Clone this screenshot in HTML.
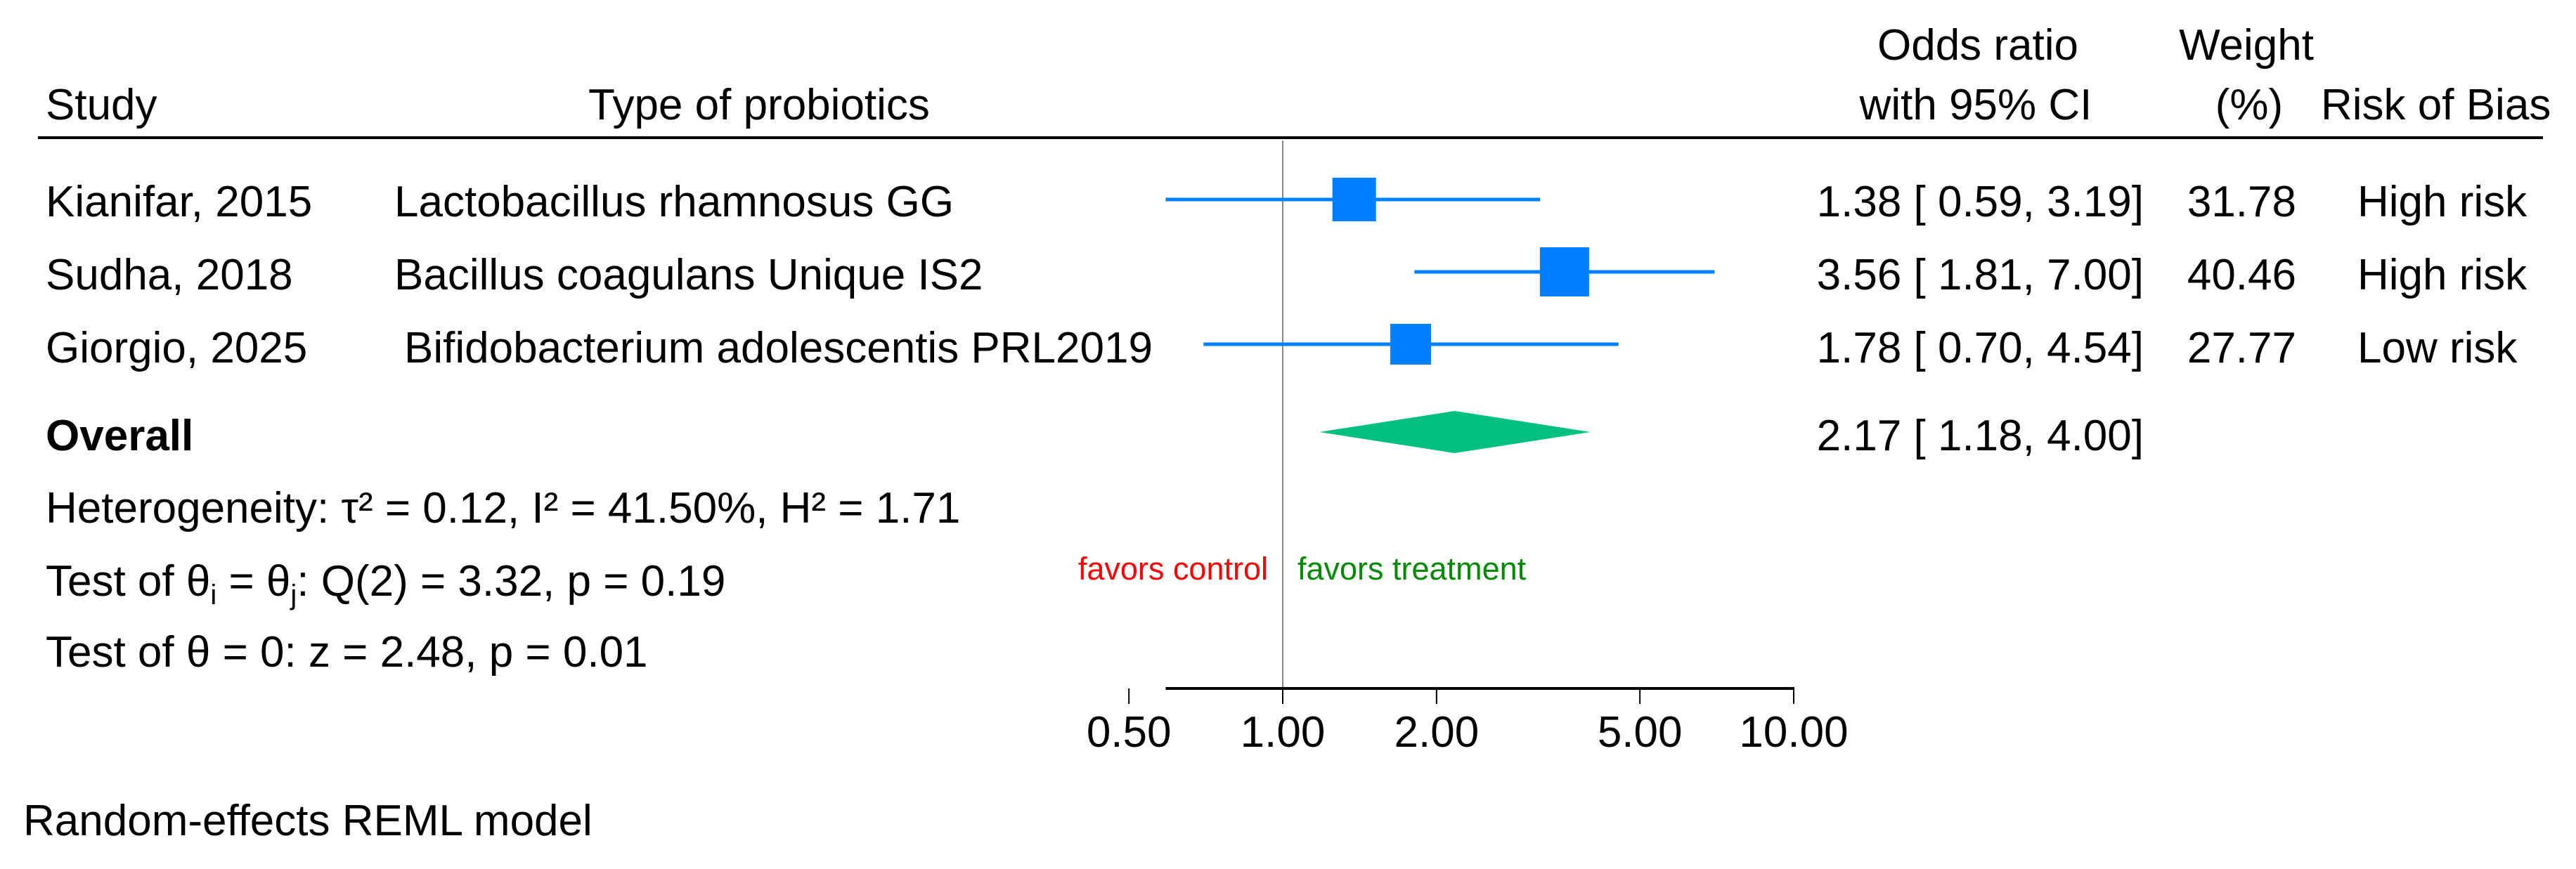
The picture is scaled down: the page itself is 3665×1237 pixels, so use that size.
<!DOCTYPE html>
<html><head><meta charset="utf-8"><style>
html,body{margin:0;padding:0;background:#fff}
svg{display:block}
text{font-family:"Liberation Sans",Arial,sans-serif;fill:#000}
</style></head><body>
<svg id="chart" width="3665" height="1237" viewBox="0 0 3665 1237" xmlns="http://www.w3.org/2000/svg">
<g font-size="62">
<text x="2814" y="85" text-anchor="middle">Odds ratio</text>
<text x="3196" y="85" text-anchor="middle">Weight</text>
<text x="65" y="170">Study</text>
<text x="837" y="170">Type of probiotics</text>
<text x="2811" y="170" text-anchor="middle">with 95% CI</text>
<text x="3200" y="170" text-anchor="middle">(%)</text>
<text x="3302" y="170">Risk of Bias</text>
</g>
<line x1="54" y1="196" x2="3618" y2="196" stroke="#000" stroke-width="4"/>
<g id="plot"></g>
<g font-size="62">
<text x="65" y="641" font-weight="bold">Overall</text>
<text x="65" y="744">Heterogeneity: τ² = 0.12, I² = 41.50%, H² = 1.71</text>
<text x="65" y="848">Test of θ<tspan font-size="40" dy="12">i</tspan><tspan dy="-12"> = θ</tspan><tspan font-size="40" dy="12">j</tspan><tspan dy="-12">: Q(2) = 3.32, p = 0.19</tspan></text>
<text x="65" y="949">Test of θ = 0: z = 2.48, p = 0.01</text>
<text x="33" y="1189">Random-effects REML model</text>
</g>
<g font-size="45">
<text x="1804" y="825" text-anchor="end" style="fill:#ff0000">favors control</text>
<text x="1846" y="825" style="fill:#008a00">favors treatment</text>
</g>
</svg>
<script>
const studies = ["Kianifar, 2015", "Sudha, 2018", "Giorgio, 2025"];
const probiotics = ["Lactobacillus rhamnosus GG", "Bacillus coagulans Unique IS2", "Bifidobacterium adolescentis PRL2019"];
const oddsRatio = [1.38, 3.56, 1.78];
const ciLow = [0.59, 1.81, 0.70];
const ciHigh = [3.19, 7.00, 4.54];
const weights = [31.78, 40.46, 27.77];
const riskOfBias = ["High risk", "High risk", "Low risk"];
const overallOR = 2.17;
const overallLow = 1.18;
const overallHigh = 4.00;
const tickValues = [0.5, 1, 2, 5, 10];
const tickLabels = ["0.50", "1.00", "2.00", "5.00", "10.00"];

const NS = "http://www.w3.org/2000/svg";
const g = document.getElementById('plot');
function xs(v){ return 1825 + 727 * Math.log10(v); }
const rowY = [284, 387, 490];
const rowBase = [308, 412, 516];
const fmt = v => v.toFixed(2);
const pad = v => (v < 10 ? " " : "") + fmt(v);
function mk(tag, attrs, txt){
  const e = document.createElementNS(NS, tag);
  for (const k in attrs) e.setAttribute(k, attrs[k]);
  if (txt !== undefined) e.textContent = txt;
  g.appendChild(e); return e;
}
// null line
let nl = mk('line', {x1: xs(1), x2: xs(1), y1: 200, y2: 980, stroke: '#888', 'stroke-width': 2});


const maxW = Math.max(...weights);
studies.forEach((s, i) => {
  let t = mk('text', {x: 65, y: rowBase[i], 'font-size': 62}, s);
  
  
  let p = mk('text', {x: i === 2 ? 575 : 561, y: rowBase[i], 'font-size': 62}, probiotics[i]);
  
  
  let ci = mk('line', {x1: xs(ciLow[i]), x2: xs(ciHigh[i]), y1: rowY[i], y2: rowY[i], stroke: '#0080ff', 'stroke-width': 5});
  
  
  const sz = 70 * Math.sqrt(weights[i] / maxW);
  let sq = mk('rect', {x: xs(oddsRatio[i]) - sz/2, y: rowY[i] - sz/2, width: sz, height: sz, fill: '#0080ff'});
  
  
  let v = mk('text', {x: 3050, y: rowBase[i], 'font-size': 62, 'text-anchor': 'end', 'xml:space': 'preserve'},
    fmt(oddsRatio[i]) + " [" + pad(ciLow[i]) + ", " + pad(ciHigh[i]) + "]");
  
  
  let w = mk('text', {x: 3267, y: rowBase[i], 'font-size': 62, 'text-anchor': 'end'}, fmt(weights[i]));
  
  
  let r = mk('text', {x: 3354, y: rowBase[i], 'font-size': 62}, riskOfBias[i]);
  
  
});
// overall diamond
const dy = 615;
let dm = mk('polygon', {points: `${xs(overallLow)},${dy} ${xs(overallOR)},${dy-30} ${xs(overallHigh)},${dy} ${xs(overallOR)},${dy+30}`, fill: '#00bf7f'});


let ov = mk('text', {x: 3050, y: 641, 'font-size': 62, 'text-anchor': 'end', 'xml:space': 'preserve'},
  fmt(overallOR) + " [" + pad(overallLow) + ", " + pad(overallHigh) + "]");


// axis
const axMin = Math.min(...ciLow);
let ax = mk('line', {x1: xs(axMin), x2: xs(tickValues[tickValues.length-1]) + 1, y1: 980, y2: 980, stroke: '#000', 'stroke-width': 4});


tickValues.forEach((v, i) => {
  let tk = mk('line', {x1: xs(v), x2: xs(v), y1: 980, y2: 1002, stroke: '#000', 'stroke-width': 2});
  
  
  let tl = mk('text', {x: xs(v), y: 1063, 'font-size': 62, 'text-anchor': 'middle'}, tickLabels[i]);
  
  
});
</script>
</body></html>
